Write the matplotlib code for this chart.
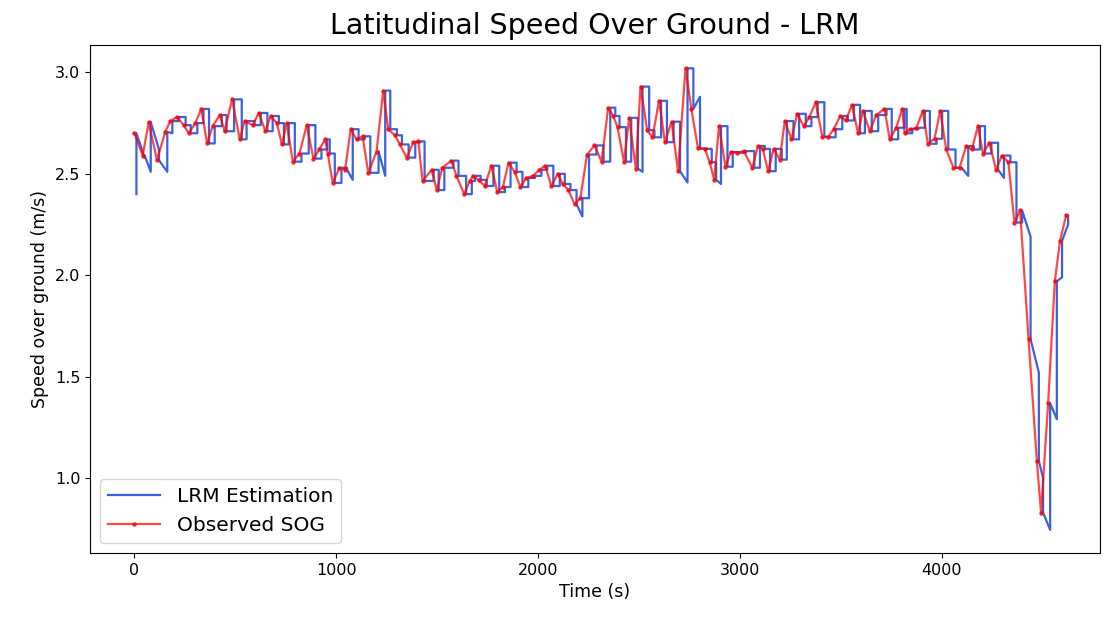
import numpy as np
import matplotlib
matplotlib.use("Agg")
from matplotlib import pyplot as plt

# observed speed over ground (time in s, speed in m/s)
obs_t = [0, 41, 71, 112, 153, 178, 211, 244, 269, 302, 332, 360, 388, 423, 447, 484,
         522, 546, 586, 616, 649, 675, 706, 731, 755, 785, 818, 854, 887, 917, 945, 958,
         983, 1016, 1044, 1072, 1101, 1131, 1159, 1200, 1233, 1258, 1291, 1316, 1349, 1382,
         1407, 1428, 1473, 1498, 1526, 1571, 1596, 1634, 1662, 1678, 1706, 1736, 1769, 1798,
         1826, 1854, 1884, 1913, 1942, 1975, 2007, 2036, 2066, 2098, 2123, 2151, 2181, 2210,
         2243, 2280, 2315, 2348, 2373, 2394, 2426, 2452, 2485, 2508, 2541, 2567, 2600, 2629,
         2662, 2694, 2731, 2760, 2793, 2827, 2851, 2873, 2897, 2929, 2955, 2985, 3020, 3062,
         3090, 3114, 3140, 3168, 3198, 3223, 3256, 3284, 3317, 3345, 3376, 3409, 3437, 3465,
         3498, 3525, 3556, 3586, 3610, 3644, 3676, 3717, 3743, 3775, 3805, 3817, 3845, 3875,
         3907, 3932, 3965, 3993, 4023, 4059, 4089, 4122, 4150, 4180, 4205, 4237, 4270, 4299,
         4331, 4361, 4389, 4431, 4472, 4493, 4528, 4561, 4587, 4617]
obs_sog = [2.70, 2.59, 2.755, 2.567, 2.707, 2.76, 2.78, 2.74, 2.70, 2.75, 2.82, 2.65, 2.735, 2.79, 2.71, 2.867,
           2.67, 2.76, 2.74, 2.80, 2.71, 2.785, 2.75, 2.645, 2.75, 2.56, 2.60, 2.74, 2.575, 2.62, 2.67, 2.60,
           2.455, 2.53, 2.52, 2.72, 2.67, 2.685, 2.505, 2.61, 2.91, 2.72, 2.69, 2.645, 2.58, 2.655,
           2.66, 2.465, 2.52, 2.42, 2.53, 2.565, 2.49, 2.40, 2.465, 2.49, 2.47, 2.44, 2.54, 2.41,
           2.435, 2.555, 2.51, 2.435, 2.48, 2.49, 2.52, 2.54, 2.44, 2.50, 2.45, 2.42, 2.35, 2.38,
           2.595, 2.64, 2.56, 2.826, 2.785, 2.73, 2.56, 2.776, 2.525, 2.93, 2.715, 2.68, 2.86, 2.656,
           2.757, 2.513, 3.02, 2.82, 2.625, 2.623, 2.557, 2.47, 2.735, 2.535, 2.607, 2.604, 2.612, 2.53,
           2.637, 2.623, 2.513, 2.623, 2.57, 2.76, 2.67, 2.796, 2.735, 2.78, 2.853, 2.683, 2.68, 2.72,
           2.785, 2.763, 2.84, 2.70, 2.81, 2.71, 2.79, 2.82, 2.67, 2.727, 2.82, 2.70, 2.72, 2.727,
           2.81, 2.648, 2.673, 2.81, 2.62, 2.53, 2.53, 2.637, 2.62, 2.735, 2.60, 2.653, 2.52, 2.59,
           2.557, 2.26, 2.32, 1.685, 1.085, 0.83, 1.37, 1.97, 2.17, 2.295]

# LRM estimate just before each new observation comes in
lrm_pred = [2.40, 2.58, 2.51, 2.62, 2.51, 2.70, 2.76, 2.78, 2.74, 2.70, 2.75, 2.82, 2.65, 2.735, 2.79, 2.71,
            2.867, 2.67, 2.76, 2.74, 2.80, 2.71, 2.785, 2.75, 2.645, 2.75, 2.56, 2.60, 2.74, 2.575, 2.62, 2.67,
            2.60, 2.455, 2.53, 2.47, 2.72, 2.67, 2.685, 2.505, 2.49, 2.91, 2.72, 2.69, 2.645, 2.58,
            2.655, 2.66, 2.465, 2.52, 2.42, 2.53, 2.565, 2.49, 2.40, 2.465, 2.49, 2.47, 2.44, 2.54,
            2.41, 2.435, 2.555, 2.51, 2.435, 2.48, 2.49, 2.52, 2.54, 2.44, 2.50, 2.45, 2.42, 2.29,
            2.38, 2.595, 2.64, 2.56, 2.826, 2.785, 2.73, 2.56, 2.776, 2.51, 2.93, 2.715, 2.68, 2.86,
            2.656, 2.757, 2.457, 3.02, 2.88, 2.625, 2.623, 2.557, 2.45, 2.735, 2.535, 2.607, 2.604, 2.612,
            2.53, 2.637, 2.623, 2.513, 2.623, 2.57, 2.76, 2.67, 2.796, 2.735, 2.78, 2.853, 2.683, 2.68,
            2.72, 2.785, 2.763, 2.84, 2.70, 2.81, 2.71, 2.79, 2.82, 2.67, 2.727, 2.82, 2.70, 2.72,
            2.727, 2.81, 2.648, 2.673, 2.81, 2.62, 2.53, 2.49, 2.637, 2.62, 2.735, 2.60, 2.653, 2.48,
            2.59, 2.557, 2.26, 2.19, 1.52, 1.00, 0.745, 1.29, 1.99, 2.25]

lag = 10  # estimate updates a little after the observation

bt, bv = [], []
for t, p, y in zip(obs_t, lrm_pred, obs_sog):
    bt += [t + lag, t + lag]
    bv += [p, y]

fig = plt.figure(figsize=(11.05, 6.17), dpi=100)
ax = fig.add_axes([90/1105, 1 - 553/617, 1010/1105, 508/617])

ax.plot(bt, bv, color='#3a62e0', lw=1.6, label='LRM Estimation')
ax.plot(obs_t, obs_sog, color='red', alpha=0.72, lw=1.6, marker='.', ms=4.5, label='Observed SOG')

ax.set_xlim(-220, 4785)
ax.set_ylim(0.631, 3.135)
ax.tick_params(labelsize=11.5)
ax.set_xlabel('Time (s)', fontsize=12.5)
ax.set_ylabel('Speed over ground (m/s)', fontsize=12.5)
ax.set_title('Latitudinal Speed Over Ground - LRM', fontsize=20.5, pad=8)
ax.legend(loc='lower left', fontsize=14.5, handlelength=2.6)

fig.savefig('out.png', dpi=100)
